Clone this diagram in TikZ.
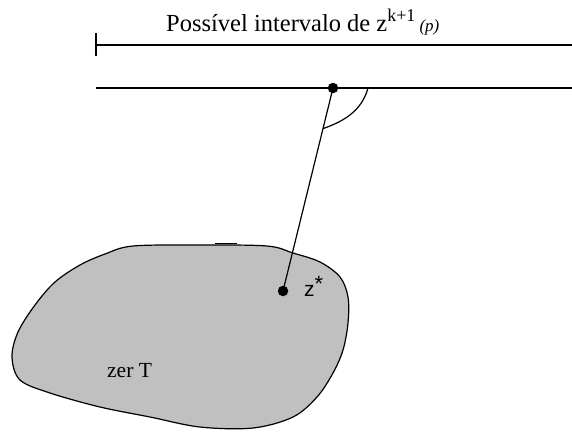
\documentclass[tikz,border=0pt]{standalone}
\usepackage{fontspec}
\setmainfont{Liberation Serif}
\newfontfamily\zsans{Liberation Sans}
\definecolor{blobgray}{RGB}{192,192,192}
\begin{document}
\begin{tikzpicture}[x=1pt,y=-1pt,
  ln/.style={line width=1.2pt},
  dotnode/.style={circle,fill=black,inner sep=0pt,minimum size=10.5pt},
  lbl/.style={inner sep=0pt,anchor=base west}]
\useasboundingbox (0,0) rectangle (572,432);
% top interval
\coordinate (t1) at (96,33);
\coordinate (t2) at (96,56);
\coordinate (a1) at (96,45);
\coordinate (a2) at (572,45);
\draw[ln] (t1) -- (t2);
\draw[ln] (a1) -- (a2);
\node[lbl] (title) at (166,31) {\fontsize{24.5}{28}\selectfont Possível intervalo de z\raisebox{10pt}{\fontsize{18}{20}\selectfont k+1}\,{\fontsize{17}{20}\selectfont\textit{(p)}}};
% second line
\coordinate (b1) at (96,88);
\coordinate (b2) at (572,88);
\draw[ln] (b1) -- (b2);
% blob
\draw[line width=1.2pt,fill=blobgray] plot[smooth cycle,tension=0.55] coordinates {
 (133,246) (200,245) (267,246) (293,253) (320,262) (340,277) (348,297) (348,323)
 (343,350) (333,373) (317,397) (293,417) (253,428) (200,427) (150,417) (100,407)
 (50,393) (20,380) (12,357) (18,332) (35,305) (55,282) (80,265) (105,254)};
\coordinate (bm1) at (215,243);
\coordinate (bm2) at (237,243);
\draw[line width=1pt] (bm1) -- (bm2);
% dots and connector
\node[dotnode] (p) at (333,88) {};
\node[dotnode] (zs) at (283,291) {};
\draw[ln] (p.center) -- (zs.center);
\path (p.center) -- (zs.center) coordinate[pos=0.2] (c1);
\coordinate (c2) at (368,88);
\draw[ln] (c1) .. controls (345,121) and (362,110) .. (c2);
% labels
\node[lbl] (zlab) at (304,296) {\zsans\fontsize{21}{24}\selectfont z\raisebox{5pt}{\fontsize{22}{24}\selectfont *}};
\node[lbl] (zer) at (107,377) {\fontsize{21.5}{24}\selectfont zer T};
\end{tikzpicture}
\end{document}
